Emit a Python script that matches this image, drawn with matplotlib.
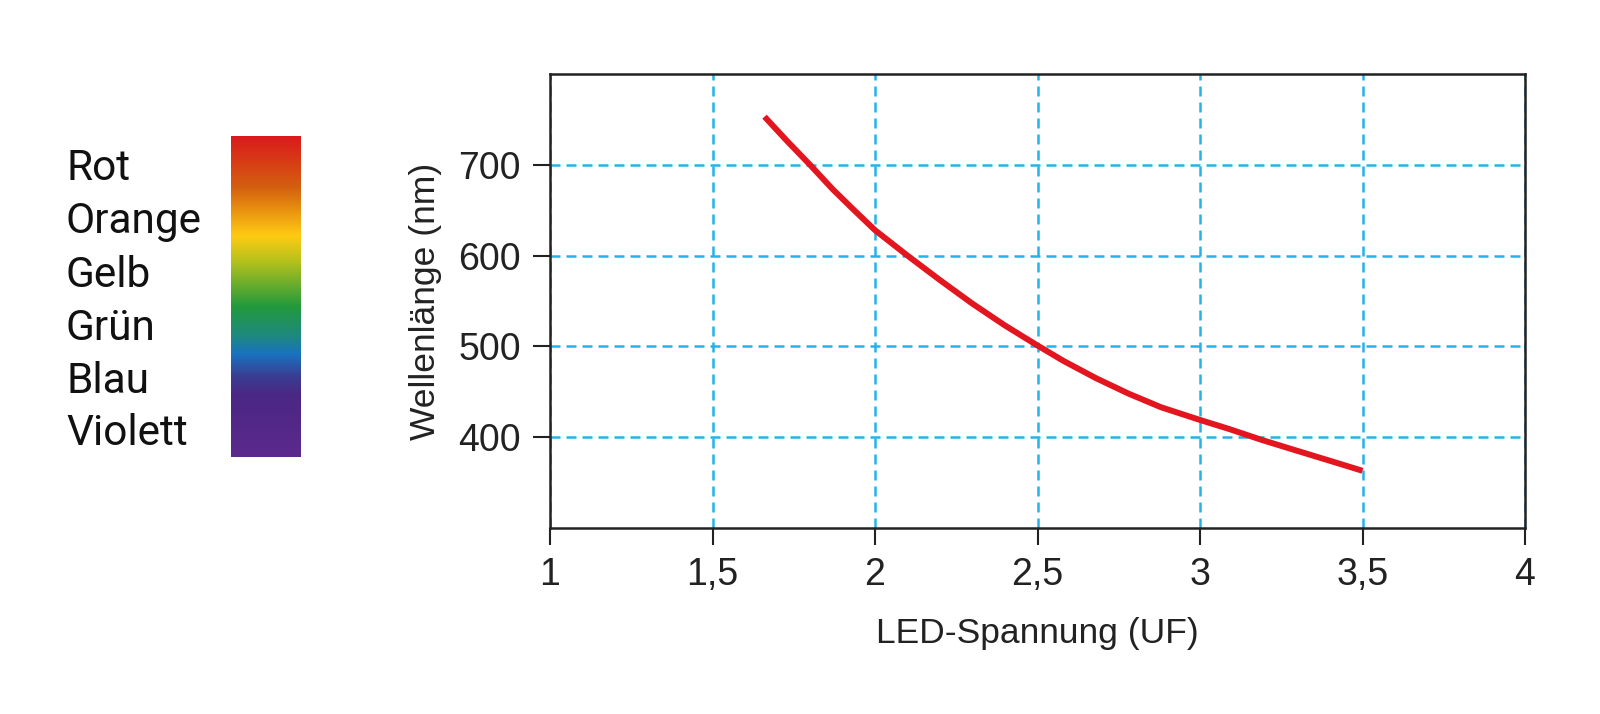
import numpy as np
import matplotlib
matplotlib.use('Agg')
import matplotlib.pyplot as plt
from matplotlib.colors import LinearSegmentedColormap

# curve
spannung = [1.66, 1.73, 1.80, 1.87, 1.93, 2.00, 2.10, 2.20, 2.30, 2.40, 2.50,
            2.58, 2.68, 2.78, 2.88, 3.00, 3.09, 3.19, 3.29, 3.40, 3.50]
wellenlaenge = [753, 726, 700, 673, 652, 628, 600, 573, 547, 523, 501,
                484, 465, 448, 433, 419, 409, 397, 386, 374, 363]

x_ticks = [1, 1.5, 2, 2.5, 3, 3.5, 4]
x_ticklabels = ['1', '1,5', '2', '2,5', '3', '3,5', '4']
y_ticks = [400, 500, 600, 700]

farben = ['Rot', 'Orange', 'Gelb', 'Grün', 'Blau', 'Violett']
spektrum = [(0.00, '#da1a1c'), (0.16, '#d4600f'), (0.31, '#ffcb12'),
            (0.39, '#b5c11c'), (0.53, '#239a3c'), (0.62, '#1e8a7c'),
            (0.68, '#1a72c0'), (0.75, '#3a3d92'), (0.81, '#4b2784'),
            (1.00, '#5b2a8c')]

regular = ['Liberation Sans', 'DejaVu Sans']

fig = plt.figure(figsize=(16, 7.14), dpi=100)

# main chart
ax = fig.add_axes([550/1600, 1-528/714, 975/1600, 454/714])
ax.plot(spannung, wellenlaenge, color='#e3161f', linewidth=4.3,
        solid_capstyle='butt', solid_joinstyle='round')
ax.set_xlim(1, 4)
ax.set_ylim(300, 800)
ax.set_xticks(x_ticks)
ax.set_xticklabels(x_ticklabels)
ax.set_yticks(y_ticks)
ax.grid(True, color='#25b2e8', linewidth=1.8, linestyle=(0, (4.0, 2.4)))
ax.set_axisbelow(True)
for s in ax.spines.values():
    s.set_linewidth(1.8)
    s.set_color('#222222')
ax.tick_params(direction='out', length=12, width=1.5, pad=9, color='#222222')
for lab in ax.get_xticklabels() + ax.get_yticklabels():
    lab.set_fontfamily(regular)
    lab.set_fontsize(27)
    lab.set_color('#222222')
ax.set_xlabel('LED-Spannung (UF)', family=regular, fontsize=25.5, color='#222222', labelpad=17)
ax.set_ylabel('Wellenlänge (nm)', family=regular, fontsize=25.5, color='#222222', labelpad=12)

# colour bar on the left
cax = fig.add_axes([231/1600, 1-456.7/714, 70/1600, 320.7/714])
cmap = LinearSegmentedColormap.from_list('spektrum', spektrum)
grad = np.linspace(0, 1, 256).reshape(-1, 1)
cax.imshow(grad, aspect='auto', cmap=cmap, extent=[0, 1, 1, 0])
cax.set_axis_off()

baselines = [180, 233, 287, 340, 393, 445]
for name, b in zip(farben, baselines):
    fig.text(66/1600, 1-b/714, name, family=['Roboto', 'DejaVu Sans'],
             fontsize=30.5, color='#111111', va='baseline', ha='left')

fig.savefig('out.png', dpi=100)
